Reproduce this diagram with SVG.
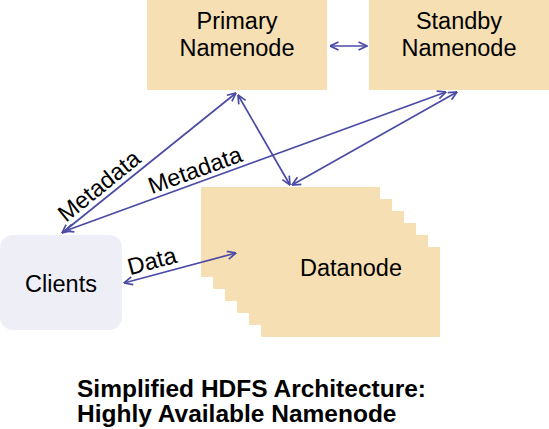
<svg xmlns="http://www.w3.org/2000/svg" width="549" height="429" viewBox="0 0 549 429">
<defs>
<marker id="ah" viewBox="0 0 10 10" refX="9.5" refY="5" markerWidth="10" markerHeight="10" markerUnits="userSpaceOnUse" orient="auto-start-reverse">
<path d="M1,1 L9.5,5 L1,9" fill="none" stroke="#4B4BA6" stroke-width="1.7"/>
</marker>
</defs>
<style>
.box{fill:#F6DFB3}
.cl{fill:#EEEFF6}
.t{font-family:"Liberation Sans",Arial,sans-serif;font-size:23.5px;fill:#000;text-anchor:middle}
.title{font-family:"Liberation Sans",Arial,sans-serif;font-size:24.5px;font-weight:bold;fill:#000}
.c{fill:none;stroke:#4B4BA6;stroke-width:1.7;marker-start:url(#ah);marker-end:url(#ah)}
</style>
<rect width="549" height="429" fill="#fff"/>
<g id="primary">
<rect class="box" x="147" y="0" width="180" height="90"/>
<text class="t" x="237" y="29">Primary</text>
<text class="t" x="237" y="56">Namenode</text>
</g>
<g id="standby">
<rect class="box" x="369" y="0" width="180" height="90"/>
<text class="t" x="459" y="29">Standby</text>
<text class="t" x="459" y="56">Namenode</text>
</g>
<g id="datanode">
<rect class="box" x="201" y="187" width="179" height="90"/>
<rect class="box" x="213" y="199" width="179" height="90"/>
<rect class="box" x="225" y="211" width="179" height="90"/>
<rect class="box" x="237" y="223" width="179" height="90"/>
<rect class="box" x="249" y="235" width="179" height="90"/>
<rect class="box" x="261" y="247" width="179" height="90"/>
<text class="t" x="351" y="276">Datanode</text>
</g>
<g id="clients">
<rect class="cl" x="0" y="235" width="122" height="95" rx="13"/>
<text class="t" x="61" y="292">Clients</text>
</g>
<g id="connectors">
<line class="c" x1="330" y1="46" x2="367" y2="46"/>
<line class="c" x1="62" y1="233" x2="236" y2="93"/>
<line class="c" x1="65" y1="231" x2="446" y2="92"/>
<line class="c" x1="238" y1="95" x2="290" y2="185"/>
<line class="c" x1="457" y1="92" x2="292" y2="185"/>
<line class="c" x1="124" y1="283" x2="236" y2="253"/>
<text class="t" transform="translate(99,186) rotate(-39)" y="8">Metadata</text>
<text class="t" transform="translate(195,170) rotate(-20)" y="8">Metadata</text>
<text class="t" transform="translate(152,261) rotate(-15)" y="8">Data</text>
</g>
<g id="title">
<text class="title" x="77" y="397">Simplified HDFS Architecture:</text>
<text class="title" x="77" y="422">Highly Available Namenode</text>
</g>
</svg>
